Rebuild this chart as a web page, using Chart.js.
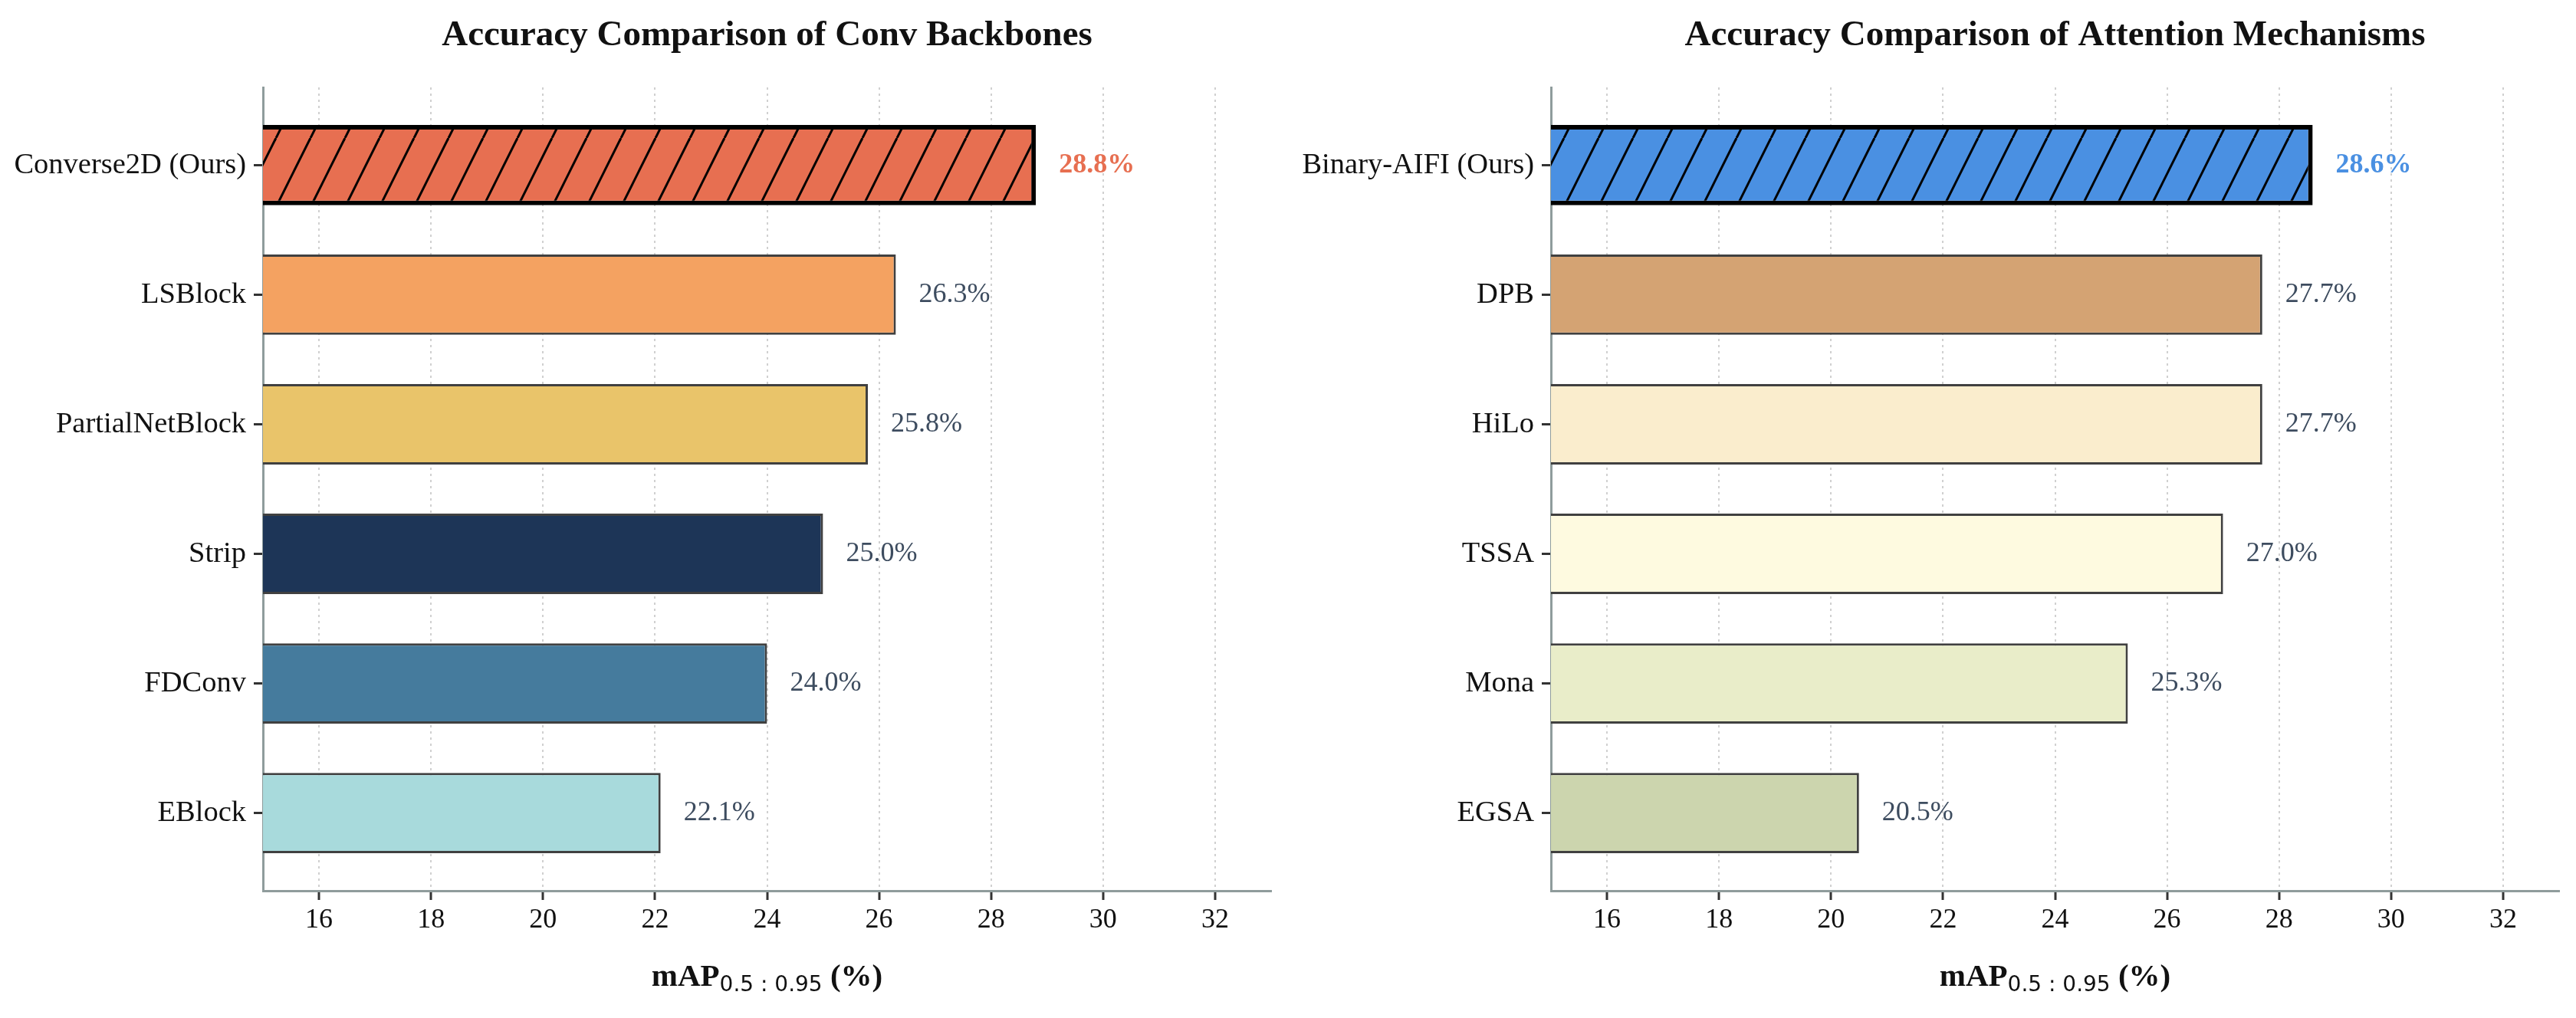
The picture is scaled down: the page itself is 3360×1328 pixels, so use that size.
<!DOCTYPE html>
<html>
<head>
<meta charset="utf-8">
<script src="https://cdn.jsdelivr.net/npm/chart.js@4.4.1/dist/chart.umd.min.js"></script>
<style>
  html, body { margin: 0; padding: 0; background: #fff; }
  .panel { position: absolute; top: 0; width: 1680px; height: 1328px; }
</style>
</head>
<body>
<div class="panel" style="left:0"><canvas id="convChart" width="1680" height="1328"></canvas></div>
<div class="panel" style="left:1680px"><canvas id="attnChart" width="1680" height="1328"></canvas></div>
<script>
// Chart data
const convLabels = ['Converse2D (Ours)', 'LSBlock', 'PartialNetBlock', 'Strip', 'FDConv', 'EBlock'];
const convValues = [28.8, 26.3, 25.8, 25.0, 24.0, 22.1];
const attnLabels = ['Binary-AIFI (Ours)', 'DPB', 'HiLo', 'TSSA', 'Mona', 'EGSA'];
const attnValues = [28.6, 27.7, 27.7, 27.0, 25.3, 20.5];
const xTicks = [16, 18, 20, 22, 24, 26, 28, 30, 32];

// Bar colours (first bar is ours, drawn hatched)
const convColors = ['#E76F51', '#F4A261', '#E9C46A', '#1D3557', '#457B9D', '#A8DADC'];
const attnColors = ['#4A90E2', '#D4A373', '#FAEDCD', '#FEFAE0', '#E9EDC9', '#CCD5AE'];

const SERIF = '"Liberation Serif", "Times New Roman", serif';
const LABEL_COLOR = '#3d4c5f';

// '/' hatch fill for the highlighted bar
function makeHatch(color) {
  const tile = document.createElement('canvas');
  tile.width = 45;
  tile.height = 90;
  const g = tile.getContext('2d');
  g.fillStyle = color;
  g.fillRect(0, 0, 45, 90);
  g.strokeStyle = '#000';
  g.lineWidth = 3;
  for (let k = -1; k <= 1; k++) {
    g.beginPath();
    g.moveTo(k * 45, 90);
    g.lineTo(k * 45 + 45, 0);
    g.stroke();
  }
  return g.createPattern(tile, 'repeat');
}

// Title, value labels and the mAP axis title, centred on the plot area
const annotations = {
  id: 'annotations',
  afterDraw(chart, args, opts) {
    const ctx = chart.ctx;
    const area = chart.chartArea;
    const cx = (area.left + area.right) / 2;
    ctx.save();

    ctx.fillStyle = '#111';
    ctx.font = 'bold 47px ' + SERIF;
    ctx.textAlign = 'center';
    ctx.textBaseline = 'middle';
    ctx.fillText(opts.title, cx, 47);

    const meta = chart.getDatasetMeta(0);
    const data = chart.data.datasets[0].data;
    ctx.textAlign = 'left';
    meta.data.forEach((bar, i) => {
      const ours = i === 0;
      ctx.font = (ours ? 'bold ' : '') + '36px ' + SERIF;
      ctx.fillStyle = ours ? opts.highlight : LABEL_COLOR;
      ctx.fillText(data[i].x.toFixed(1) + '%', bar.x + 30, bar.y);
    });

    // mAP_{0.5 : 0.95} (%)
    const parts = [
      { text: 'mAP', font: 'bold 41px ' + SERIF, dy: 0 },
      { text: '0.5 : 0.95', font: '28px "DejaVu Sans", sans-serif', dy: 7 },
      { text: ' (%)', font: 'bold 41px ' + SERIF, dy: 0 }
    ];
    let total = 0;
    parts.forEach((p) => { ctx.font = p.font; p.w = ctx.measureText(p.text).width; total += p.w; });
    let x = cx - total / 2;
    ctx.fillStyle = '#111';
    ctx.textBaseline = 'alphabetic';
    parts.forEach((p) => {
      ctx.font = p.font;
      ctx.fillText(p.text, x, 1286 + p.dy);
      x += p.w;
    });
    ctx.restore();
  }
};

function buildChart(id, title, labels, values, colors, highlight) {
  const ctx = document.getElementById(id);
  return new Chart(ctx, {
    type: 'bar',
    data: {
      datasets: [{
        data: values.map((v, i) => ({ x: v, y: i })),
        backgroundColor: colors.map((c, i) => (i === 0 ? makeHatch(c) : c)),
        borderColor: colors.map((c, i) => (i === 0 ? '#000' : '#404040')),
        borderWidth: colors.map((c, i) => (i === 0 ? 6 : 3)),
        borderSkipped: false,
        barPercentage: 0.62,
        categoryPercentage: 1
      }]
    },
    plugins: [annotations],
    options: {
      indexAxis: 'y',
      responsive: false,
      devicePixelRatio: 1,
      animation: false,
      layout: { padding: { top: 114, right: 22, bottom: 0, left: 0 } },
      plugins: {
        legend: { display: false },
        tooltip: { enabled: false },
        annotations: { title: title, highlight: highlight }
      },
      scales: {
        x: {
          type: 'linear',
          min: 15,
          max: 33,
          z: 1,
          afterBuildTicks: (scale) => { scale.ticks = xTicks.map((v) => ({ value: v })); },
          afterFit: (scale) => { scale.height = 166; },
          grid: {
            color: 'rgba(170, 170, 170, 0.55)',
            lineWidth: 2,
            tickLength: 12,
            tickColor: '#333',
            tickWidth: 3,
            tickBorderDash: []
          },
          border: { color: '#8f9c9c', width: 3, dash: [3, 5] },
          ticks: { font: { family: SERIF, size: 36 }, color: '#111', padding: 5 }
        },
        y: {
          type: 'linear',
          min: -0.6,
          max: 5.6,
          reverse: true,
          offset: false,
          z: 1,
          afterBuildTicks: (scale) => { scale.ticks = labels.map((_, i) => ({ value: i })); },
          afterFit: (scale) => { scale.width = 343; },
          grid: { offset: false, drawOnChartArea: false, tickLength: 12, tickColor: '#333', tickWidth: 3 },
          border: { color: '#8f9c9c', width: 3 },
          ticks: {
            callback: (v) => labels[v],
            font: { family: SERIF, size: 38.5 },
            color: '#111',
            padding: 10
          }
        }
      }
    }
  });
}

buildChart('convChart', 'Accuracy Comparison of Conv Backbones', convLabels, convValues, convColors, '#E76F51');
buildChart('attnChart', 'Accuracy Comparison of Attention Mechanisms', attnLabels, attnValues, attnColors, '#4A90E2');
</script>
</body>
</html>
